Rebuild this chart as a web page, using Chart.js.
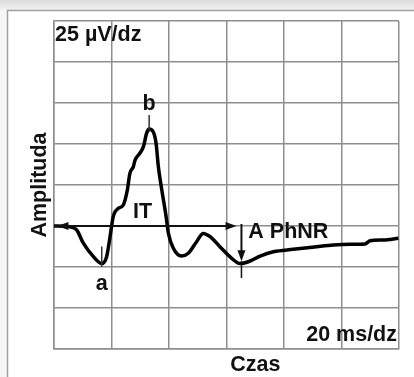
<!DOCTYPE html>
<html>
  <head>
    <style>
      html {
        background: #ffffff;
      }
      body {
        margin: 0;
      }
      #chart-container {
        position: relative;
        width: 414px;
        height: 377px;
      }
    </style>
  </head>
  <body>
    <div id="chart-container">
      <canvas id="chart" width="414" height="377"></canvas>
    </div>

    <script src="https://cdn.jsdelivr.net/npm/chart.js"></script>
    <script>
      // ERG trace, time in ms, amplitude in µV
      const timeMs = [0, 4.4, 6.2, 7.9, 10.2, 13.7, 16.6, 18.3, 19.5, 20.6, 22.4, 24.1, 25.5, 26.4, 27.6, 28.2,
        29.9, 31.1, 32.2, 33.1, 34.5, 35.5, 36.3, 37.5, 39.0, 39.8, 41.5, 44.4, 46.7, 49.6, 51.9, 54.3,
        57.7, 61.8, 64.7, 67.6, 71.7, 76.3, 83.2, 91.4, 97.2, 103.0, 108.2, 109.9, 114.5, 119.8];
      const amplitudeUv = [0, -0.3, -0.8, -2.4, -10.5, -18.7, -22.9, -18.7, -6.5, 5.7, 10.8, 12.8, 21.9, 32.1, 36.2, 40.2,
        44.5, 48.4, 56.5, 59.1, 57.5, 50.4, 36.2, 21.9, 5.7, -4.5, -13.6, -18.3, -16.6, -9.6, -4.5, -6.5,
        -12.6, -19.7, -22.9, -21.8, -18.3, -15.7, -14.2, -12.6, -11.6, -11.2, -11.0, -9.0, -8.5, -7.5];

      // grid: 20 ms/dz, 25 µV/dz
      const xTicks = [0, 20, 40, 60, 80, 100, 120];
      const yTicks = [-75, -50, -25, 0, 25, 50, 75, 100, 125];

      // wave labels (data units)
      const labelText = ["b", "a", "IT", "A PhNR"];
      const labelX = [33.1, 16.6, 30.8, 67.6];
      const labelY = [70.7, -39, 4.9, -7.5];

      // marker ticks at a and b
      const tickX = [16.6, 33.1];
      const tickFrom = [-12.5, 57.5];
      const tickTo = [-25, 67.7];

      // IT arrow (horizontal) and PhNR amplitude arrow (vertical)
      const itFrom = 1.2, itTo = 63.5;
      const phnrX = 65.2, phnrTip = -21.5, phnrEnd = -31.7;

      const FONT = 'bold 21.5px "Liberation Sans", Arial, sans-serif';

      function arrowHead(ctx, x, y, dx, dy) {
        // tip at (x, y), pointing along (dx, dy)
        const len = 11, half = 4;
        const px = -dy, py = dx;
        ctx.beginPath();
        ctx.moveTo(x, y);
        ctx.lineTo(x - dx * len + px * half, y - dy * len + py * half);
        ctx.lineTo(x - dx * len - px * half, y - dy * len - py * half);
        ctx.closePath();
        ctx.fill();
      }

      const panel = {
        id: 'panel',
        beforeDraw(chart) {
          const ctx = chart.ctx;
          ctx.save();
          ctx.fillStyle = '#f6f6f6';
          ctx.fillRect(0, 0, chart.width, chart.height);
          const g = ctx.createLinearGradient(0, 0, 0, 10);
          g.addColorStop(0, '#dcdcdc');
          g.addColorStop(1, '#f2f2f2');
          ctx.fillStyle = g;
          ctx.fillRect(0, 0, chart.width, 10);
          ctx.fillStyle = '#ffffff';
          ctx.fillRect(7, 10, chart.width - 7, chart.height - 10);
          ctx.strokeStyle = '#a0a0a0';
          ctx.lineWidth = 1.5;
          ctx.beginPath();
          ctx.moveTo(7.5, chart.height);
          ctx.lineTo(7.5, 10.5);
          ctx.lineTo(chart.width, 10.5);
          ctx.stroke();
          ctx.restore();
        }
      };

      const annotations = {
        id: 'annotations',
        afterDatasetsDraw(chart) {
          const ctx = chart.ctx;
          const xs = chart.scales.x, ys = chart.scales.y;
          const area = chart.chartArea;
          ctx.save();
          ctx.strokeStyle = '#111';
          ctx.fillStyle = '#111';

          // IT arrow
          const y0 = ys.getPixelForValue(0);
          const xa = xs.getPixelForValue(itFrom), xb = xs.getPixelForValue(itTo);
          ctx.lineWidth = 2;
          ctx.beginPath();
          ctx.moveTo(area.left, y0);
          ctx.lineTo(xb - 4, y0);
          ctx.stroke();
          arrowHead(ctx, xa, y0, -1, 0);
          arrowHead(ctx, xb, y0, 1, 0);

          // PhNR arrow
          const xp = xs.getPixelForValue(phnrX);
          const yt = ys.getPixelForValue(phnrTip);
          ctx.beginPath();
          ctx.moveTo(xp, y0 - 2);
          ctx.lineTo(xp, yt - 4);
          ctx.stroke();
          arrowHead(ctx, xp, yt, 0, 1);
          ctx.lineWidth = 1.5;
          ctx.beginPath();
          ctx.moveTo(xp, yt);
          ctx.lineTo(xp, ys.getPixelForValue(phnrEnd));
          ctx.stroke();

          // a / b ticks
          ctx.strokeStyle = '#333';
          ctx.lineWidth = 1.5;
          tickX.forEach(function (t, i) {
            const x = xs.getPixelForValue(t);
            ctx.beginPath();
            ctx.moveTo(x, ys.getPixelForValue(tickFrom[i]));
            ctx.lineTo(x, ys.getPixelForValue(tickTo[i]));
            ctx.stroke();
          });
          ctx.restore();
        },
        afterDraw(chart) {
          const ctx = chart.ctx;
          const xs = chart.scales.x, ys = chart.scales.y;
          const area = chart.chartArea;
          ctx.save();
          ctx.font = FONT;
          ctx.fillStyle = '#111';
          ctx.textBaseline = 'alphabetic';

          labelText.forEach(function (t, i) {
            ctx.textAlign = t === 'A PhNR' ? 'left' : 'center';
            ctx.fillText(t, xs.getPixelForValue(labelX[i]), ys.getPixelForValue(labelY[i]));
          });

          // scale notes
          ctx.textAlign = 'left';
          ctx.fillText('25 µV/dz', area.left + 1, area.top + 20);
          ctx.textAlign = 'right';
          ctx.fillText('20 ms/dz', area.right - 2, area.bottom - 8);

          // axis titles
          ctx.textAlign = 'center';
          ctx.fillText('Czas', xs.getPixelForValue(70), area.bottom + 22);
          ctx.translate(area.left - 8, (area.top + area.bottom) / 2);
          ctx.rotate(-Math.PI / 2);
          ctx.fillText('Amplituda', 0, 0);
          ctx.restore();
        }
      };

      const canvas = document.getElementById('chart');

      new Chart(canvas, {
        type: 'line',
        data: {
          datasets: [
            {
              label: 'ERG',
              data: timeMs.map((t, i) => ({ x: t, y: amplitudeUv[i] })),
              borderColor: '#000',
              borderWidth: 3.5,
              pointRadius: 0,
              cubicInterpolationMode: 'monotone',
              fill: false
            }
          ]
        },
        options: {
          responsive: false,
          animation: false,
          layout: {
            padding: { left: 54, top: 21, right: 15, bottom: 28 }
          },
          plugins: {
            legend: { display: false },
            tooltip: { enabled: false }
          },
          scales: {
            x: {
              type: 'linear',
              min: xTicks[0],
              max: xTicks[xTicks.length - 1],
              afterBuildTicks: (axis) => { axis.ticks = xTicks.map(v => ({ value: v })); },
              ticks: { display: false },
              grid: { color: '#8e8e8e', lineWidth: 1.5, drawTicks: false },
              border: { color: '#8e8e8e', width: 1.5 }
            },
            y: {
              min: yTicks[0],
              max: yTicks[yTicks.length - 1],
              afterBuildTicks: (axis) => { axis.ticks = yTicks.map(v => ({ value: v })); },
              ticks: { display: false },
              grid: { color: '#8e8e8e', lineWidth: 1.5, drawTicks: false },
              border: { color: '#8e8e8e', width: 1.5 }
            }
          }
        },
        plugins: [panel, annotations]
      });
    </script>
  </body>
</html>
